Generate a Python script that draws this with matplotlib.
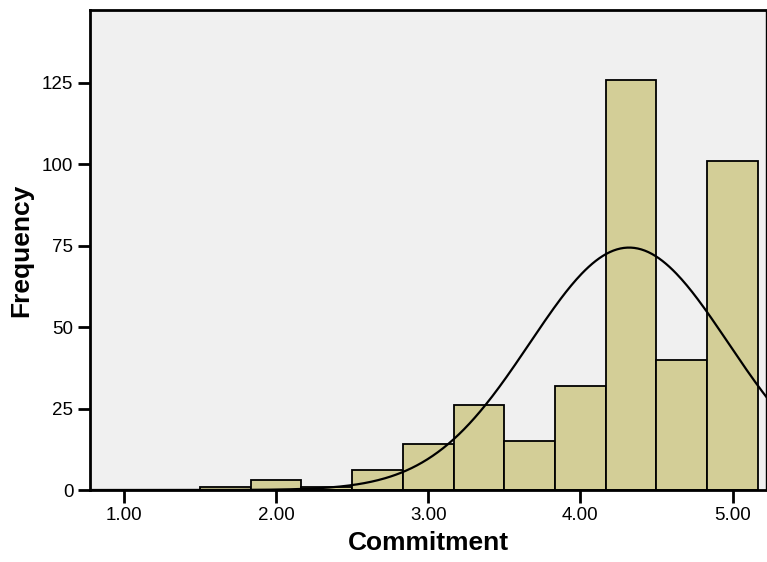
import matplotlib
matplotlib.use("Agg")
import matplotlib.pyplot as plt
import numpy as np

# Histogram bins (left edges, width 1/3) and frequencies
BIN_START = 1.5
BIN_WIDTH = 1.0 / 3.0
counts = [1, 3, 1, 6, 14, 26, 15, 32, 126, 40, 101]

# Normal curve parameters (SPSS overlay)
MEAN = 4.32
SD = 0.652

x_ticks = [1.0, 2.0, 3.0, 4.0, 5.0]
x_ticklabels = ["1.00", "2.00", "3.00", "4.00", "5.00"]
y_ticks = [0, 25, 50, 75, 100, 125]

plt.rcParams["font.family"] = ["Liberation Sans", "DejaVu Sans"]

fig = plt.figure(figsize=(7.67, 5.62), dpi=100)
ax = fig.add_axes([0.1173, 0.1281, 0.8814, 0.8541])
ax.set_facecolor("#F0F0F0")

edges = BIN_START + BIN_WIDTH * np.arange(len(counts))
ax.bar(edges, counts, width=BIN_WIDTH, align="edge", color="#D3CE97",
       edgecolor="black", linewidth=1.3, zorder=2)

# Normal curve scaled to counts
n = sum(counts)
xs = np.linspace(0.7, 5.3, 400)
ys = n * BIN_WIDTH / (SD * np.sqrt(2 * np.pi)) * np.exp(-0.5 * ((xs - MEAN) / SD) ** 2)
ax.plot(xs, ys, color="black", linewidth=1.6, zorder=3)

ax.set_xlim(0.777, 5.22)
ax.set_ylim(0, 147.4)
ax.set_xticks(x_ticks)
ax.set_xticklabels(x_ticklabels)
ax.set_yticks(y_ticks)
ax.tick_params(axis="both", labelsize=13.5, length=9, width=2, color="black", pad=3)

for side in ["left", "bottom", "top"]:
    ax.spines[side].set_linewidth(2)
ax.spines["right"].set_linewidth(1)

ax.set_xlabel("Commitment", fontsize=19, fontweight="bold", labelpad=5)
ax.set_ylabel("Frequency", fontsize=19, fontweight="bold", labelpad=6)

fig.savefig("out.png", dpi=100)
